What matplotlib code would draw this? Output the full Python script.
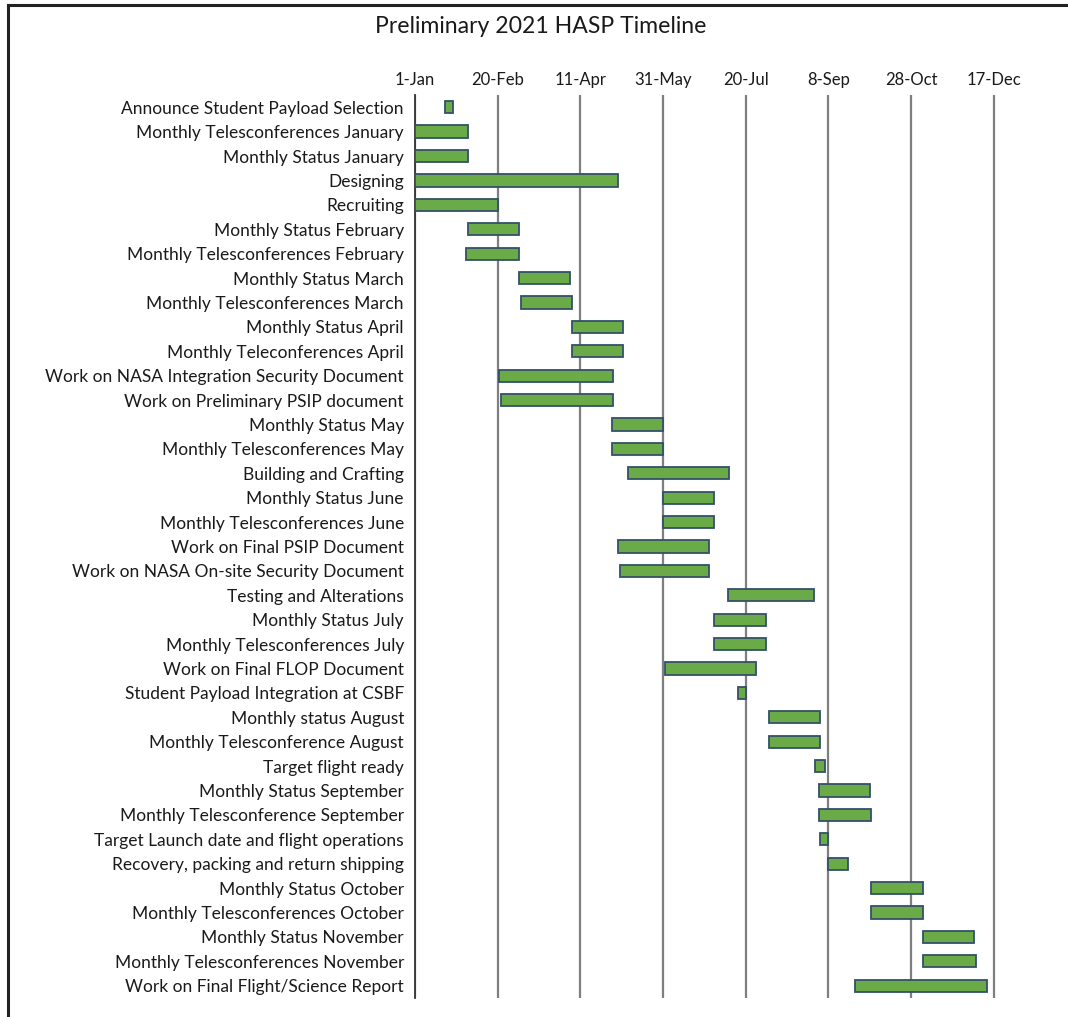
import matplotlib.pyplot as plt
from matplotlib.lines import Line2D

plt.rcParams['font.family'] = ['Lato', 'DejaVu Sans']

tasks = [
    "Announce Student Payload Selection",
    "Monthly Telesconferences January",
    "Monthly Status January",
    "Designing",
    "Recruiting",
    "Monthly Status February",
    "Monthly Telesconferences February",
    "Monthly Status March",
    "Monthly Telesconferences March",
    "Monthly Status April",
    "Monthly Teleconferences April",
    "Work on NASA Integration Security Document",
    "Work on Preliminary PSIP document",
    "Monthly Status May",
    "Monthly Telesconferences May",
    "Building and Crafting",
    "Monthly Status June",
    "Monthly Telesconferences June",
    "Work on Final PSIP Document",
    "Work on NASA On-site Security Document",
    "Testing and Alterations",
    "Monthly Status July",
    "Monthly Telesconferences July",
    "Work on Final FLOP Document",
    "Student Payload Integration at CSBF",
    "Monthly status August",
    "Monthly Telesconference August",
    "Target flight ready",
    "Monthly Status September",
    "Monthly Telesconference September",
    "Target Launch date and flight operations",
    "Recovery, packing and return shipping",
    "Monthly Status October",
    "Monthly Telesconferences October",
    "Monthly Status November",
    "Monthly Telesconferences November",
    "Work on Final Flight/Science Report",
]

# days after 1-Jan-2021
start = [18, 0, 0, 0, 0, 32, 31, 63, 64, 95, 95, 51, 52, 119, 119, 129, 150, 150,
         123, 124, 189, 181, 181, 151, 195, 214, 214, 242, 244, 244, 245, 250,
         276, 276, 307, 307, 266]
duration = [5, 32, 32, 123, 50, 31, 32, 31, 31, 31, 31, 69, 68, 31, 31, 61, 31, 31,
            55, 54, 52, 31, 31, 55, 5, 31, 31, 6, 31, 32, 5, 12,
            31, 31, 31, 32, 80]

tick_days = [0, 50, 100, 150, 200, 250, 300, 350]
tick_labels = ["1-Jan", "20-Feb", "11-Apr", "31-May", "20-Jul", "8-Sep", "28-Oct", "17-Dec"]

fig = plt.figure(figsize=[10.68, 10.17], dpi=100)
ax = fig.add_axes([0.3886, 0.0187, 0.5652, 0.8879])

ys = list(range(len(tasks)))
ax.barh(ys, duration, left=start, height=0.5, color="#6AAB47",
        edgecolor="#34506A", linewidth=1.3, zorder=3)

ax.set_ylim(len(tasks) - 0.5, -0.5)
ax.set_xlim(0, 365)
ax.set_yticks(ys)
ax.set_yticklabels(tasks, fontsize=12.5, color="#1A1A1A")
ax.xaxis.tick_top()
ax.set_xticks(tick_days)
ax.set_xticklabels(tick_labels, fontsize=12, color="#1A1A1A")
ax.tick_params(axis="both", length=0)
ax.tick_params(axis="x", pad=5)
ax.tick_params(axis="y", pad=8)
ax.grid(axis="x", color="#7F7F7F", linewidth=1.6, zorder=0)
for s in ["top", "right", "bottom"]:
    ax.spines[s].set_visible(False)
ax.spines["left"].set_color("#333333")
ax.spines["left"].set_linewidth(1.3)

fig.text(0.506, 0.974, "Preliminary 2021 HASP Timeline", ha="center", va="center",
         fontsize=16.6, color="#1A1A1A")

# frame around the chart
fig.add_artist(Line2D([0.0075, 0.0075], [0.0, 0.995], color="#222222", linewidth=2.2))
fig.add_artist(Line2D([0.0075, 1.0], [0.995, 0.995], color="#222222", linewidth=2.2))

plt.savefig("out.png", dpi=100)
